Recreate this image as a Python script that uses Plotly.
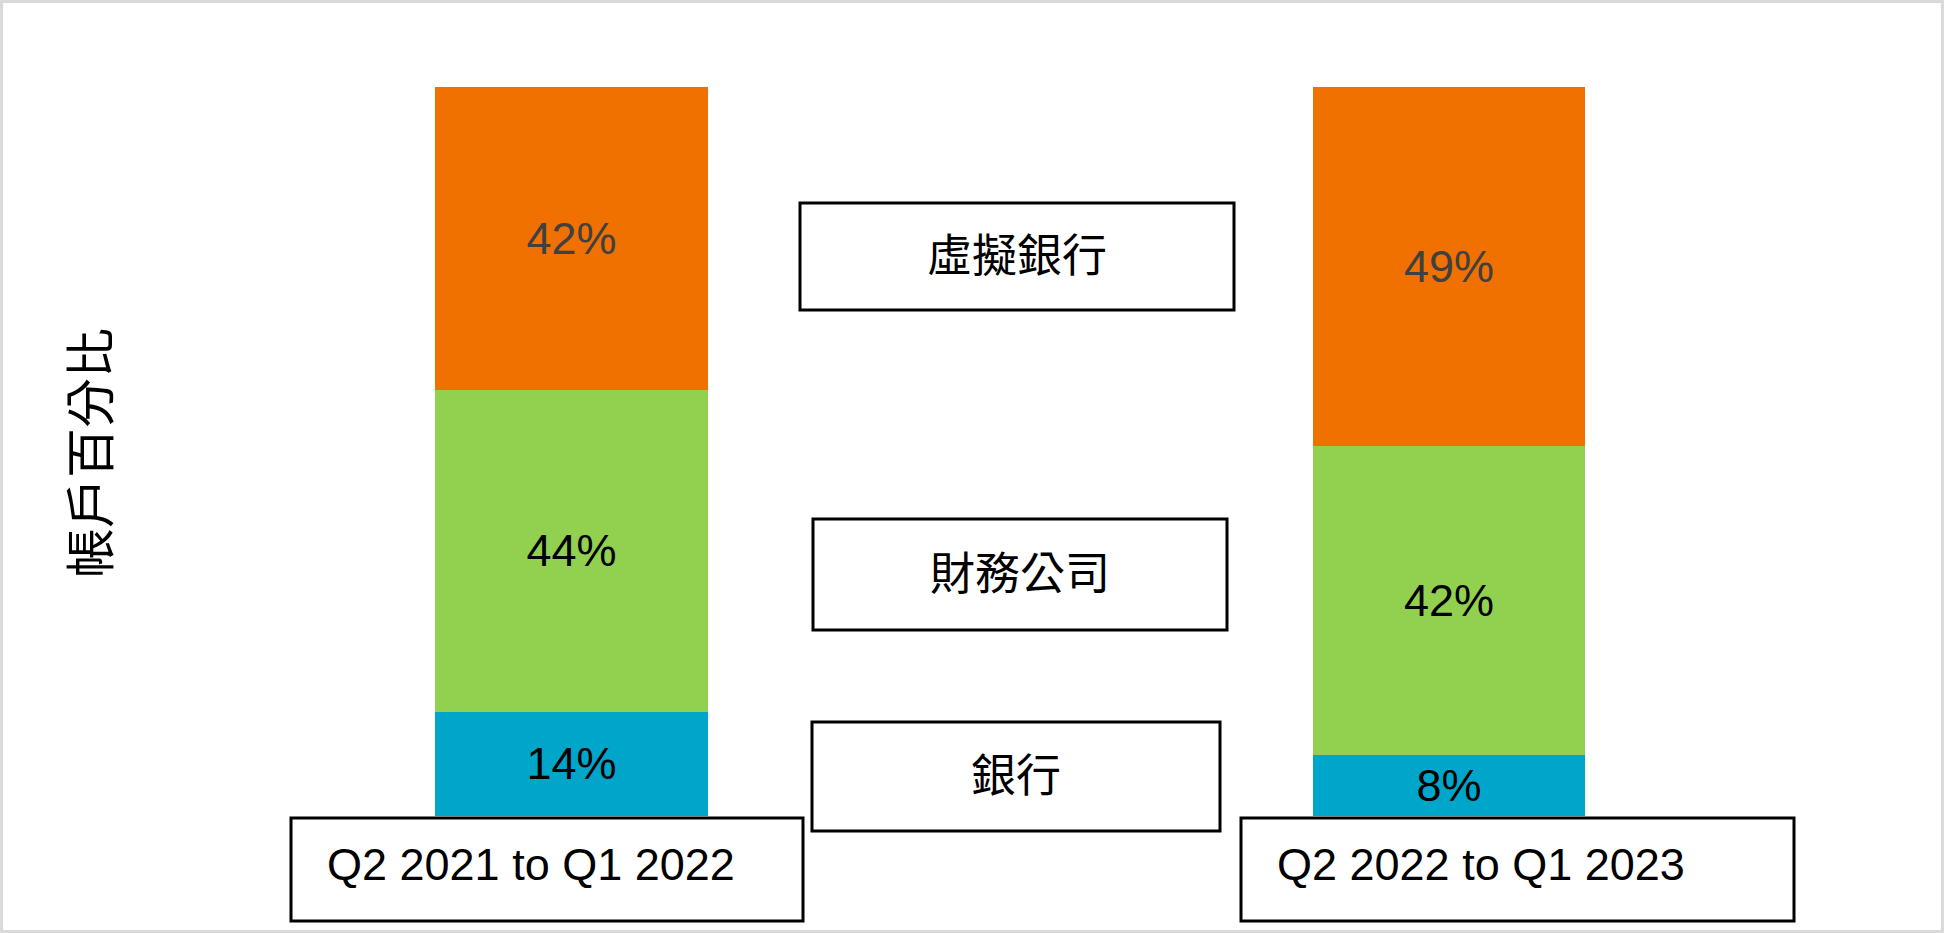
import plotly.graph_objects as go

## data (segment heights; labels show the rounded value)
periods = ["Q2 2021 to Q1 2022", "Q2 2022 to Q1 2023"]
series_names = ["銀行", "財務公司", "虛擬銀行"]
bank = [14.3, 8.3]
finance_co = [44.1, 42.4]
virtual_bank = [41.6, 49.3]
y_title = "帳戶百分比"

W, H = 1944, 933
FONT = "Liberation Sans, Arial, Noto Sans CJK TC, sans-serif"
CJK = "Noto Sans CJK TC"


def px(x):
    return x / W


def py(y):
    return 1 - y / H


fig = go.Figure()
series = [
    (series_names[0], bank, "#00A6C9", "black"),
    (series_names[1], finance_co, "#92D050", "black"),
    (series_names[2], virtual_bank, "#F07000", "#404040"),
]
for name, vals, color, tcolor in series:
    fig.add_bar(
        x=periods,
        y=vals,
        name=name,
        marker=dict(color=color, line=dict(width=0)),
        texttemplate="%{y:.0f}%",
        textposition="inside",
        insidetextanchor="middle",
        textangle=0,
        textfont=dict(size=45, color=tcolor, family=FONT),
        width=0.311,
    )

shapes = []
annotations = []

## legend boxes, top to bottom: virtual bank, finance co, bank
legend_boxes = [
    (series_names[2], 800, 1234, 203, 310),
    (series_names[1], 813, 1227, 519, 630),
    (series_names[0], 812, 1220, 722, 831),
]
for name, x0, x1, y0, y1 in legend_boxes:
    shapes.append(dict(type="rect", xref="paper", yref="paper",
                       x0=px(x0), x1=px(x1), y0=py(y0), y1=py(y1),
                       line=dict(color="black", width=3), fillcolor="white", layer="above"))
    annotations.append(dict(xref="paper", yref="paper", x=px((x0 + x1) / 2), y=py((y0 + y1) / 2 - 4),
                            xanchor="center", yanchor="middle",
                            text=name, showarrow=False, font=dict(size=45, color="black", family=CJK)))

## period label boxes
period_boxes = [(291, 803, 325), (1241, 1794, 1275)]
for label, (x0, x1, tx) in zip(periods, period_boxes):
    shapes.append(dict(type="rect", xref="paper", yref="paper",
                       x0=px(x0), x1=px(x1), y0=py(818), y1=py(921),
                       line=dict(color="black", width=3), fillcolor="white", layer="above"))
    annotations.append(dict(xref="paper", yref="paper", x=px(tx), y=py(864),
                            xanchor="left", yanchor="middle",
                            text=label, showarrow=False, font=dict(size=45, color="black", family=FONT)))

## y title
annotations.append(dict(xref="paper", yref="paper", x=px(87), y=py(453), xanchor="center", yanchor="middle",
                        text=y_title, textangle=-90,
                        showarrow=False, font=dict(size=50, color="black", family=CJK)))

## outer frame
shapes.append(dict(type="rect", xref="paper", yref="paper", x0=0.0008, x1=0.9992, y0=0.0016, y1=0.9984,
                   line=dict(color="#D9D9D9", width=3)))

fig.update_layout(
    width=W,
    height=H,
    barmode="stack",
    showlegend=False,
    plot_bgcolor="white",
    paper_bgcolor="white",
    margin=dict(l=0, r=0, t=0, b=0),
    xaxis=dict(range=[-0.6513, 1.5641], visible=False),
    yaxis=dict(range=[-16.05, 111.93], visible=False),
    shapes=shapes,
    annotations=annotations,
    font=dict(family=FONT),
)
fig.write_html("out.html", config={"displayModeBar": False},
               post_script="document.body.style.margin='0';")
